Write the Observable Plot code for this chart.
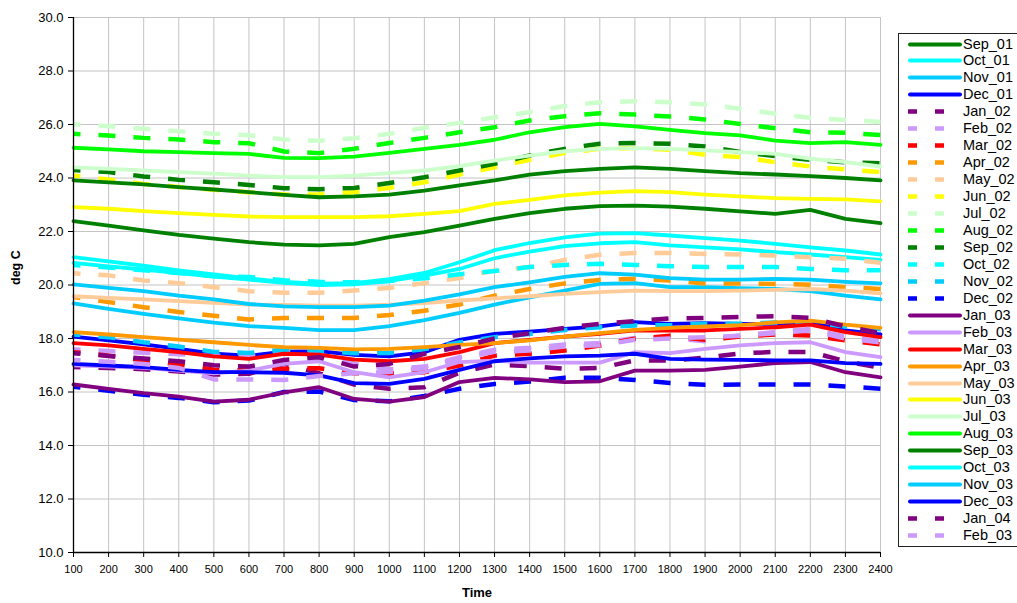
<!DOCTYPE html>
<html><head><meta charset="utf-8">
<script src="https://cdn.jsdelivr.net/npm/d3@7"></script>
<script src="https://cdn.jsdelivr.net/npm/@observablehq/plot@0.6"></script>
<style>
body{margin:0;background:#fff;font-family:"Liberation Sans",Arial,sans-serif}
#wrap{position:relative;width:1017px;height:603px;overflow:hidden}
#legend{position:absolute;left:898px;top:33px;width:140px;height:514px;border:1px solid #222;box-sizing:border-box;background:#fff}
.item{position:absolute;left:0;height:17px;display:flex;align-items:center;white-space:nowrap}
.item span{font-size:14.5px;color:#000;line-height:17px}
</style></head>
<body><div id="wrap"><div id="chart"></div><div id="legend"></div></div>
<script>
const times = [100,200,300,400,500,600,700,800,900,1000,1100,1200,1300,1400,1500,1600,1700,1800,1900,2000,2100,2200,2300,2400];
const yTicks = [10,12,14,16,18,20,22,24,26,28,30];

const seriesNames = ["Sep_01","Oct_01","Nov_01","Dec_01","Jan_02","Feb_02","Mar_02","Apr_02","May_02","Jun_02","Jul_02","Aug_02","Sep_02","Oct_02","Nov_02","Dec_02","Jan_03","Feb_03","Mar_03","Apr_03","May_03","Jun_03","Jul_03","Aug_03","Sep_03","Oct_03","Nov_03","Dec_03","Jan_04","Feb_03"];

const sep01 = [22.39,22.22,22.04,21.87,21.73,21.6,21.51,21.48,21.54,21.79,21.98,22.22,22.47,22.69,22.85,22.95,22.97,22.93,22.85,22.75,22.66,22.81,22.47,22.31];
const oct01 = [20.83,20.7,20.58,20.44,20.31,20.2,20.08,20.0,20.02,20.15,20.35,20.6,21.0,21.25,21.45,21.56,21.6,21.48,21.41,21.33,21.23,21.14,21.04,20.94];
const nov01 = [19.31,19.11,18.92,18.75,18.59,18.46,18.4,18.31,18.31,18.46,18.69,18.96,19.27,19.54,19.79,20.04,20.07,19.92,19.92,19.88,19.85,19.77,19.6,19.46];
const dec01 = [18.07,17.93,17.78,17.61,17.43,17.36,17.51,17.53,17.39,17.33,17.49,17.95,18.17,18.26,18.36,18.45,18.61,18.55,18.57,18.55,18.55,18.61,18.3,18.15];
const jan02 = [16.93,16.9,16.85,16.77,16.65,16.68,17.05,16.7,16.28,16.12,16.18,16.72,17.03,16.97,16.87,16.9,17.18,17.18,17.28,17.44,17.5,17.5,17.15,16.9];
const feb02 = [17.59,17.53,17.47,17.41,17.35,17.37,17.5,17.4,17.05,16.85,16.95,17.3,17.58,17.65,17.78,17.83,18.02,18.02,17.9,18.11,18.24,18.36,18.07,17.9];
const mar02 = [17.49,17.36,17.18,17.03,16.83,16.8,16.87,16.89,16.7,16.68,16.74,16.99,17.36,17.43,17.55,17.74,17.99,18.1,17.95,18.07,18.15,18.11,17.93,17.78];
const apr02 = [19.55,19.36,19.17,18.99,18.85,18.71,18.77,18.77,18.77,18.88,19.04,19.27,19.6,19.85,20.06,20.19,20.23,20.17,20.06,20.06,20.04,20.01,19.92,19.85];
const may02 = [20.44,20.36,20.17,20.07,19.92,19.77,19.71,19.71,19.79,19.89,20.07,20.26,20.54,20.67,20.94,21.13,21.2,21.2,21.16,21.14,21.1,21.04,20.98,20.83];
const jun02 = [24.09,23.94,23.78,23.66,23.56,23.47,23.38,23.38,23.47,23.63,23.84,24.13,24.4,24.68,24.94,25.09,25.12,25.06,24.87,24.78,24.59,24.43,24.32,24.22];
const jul02 = [26.0,25.94,25.84,25.75,25.65,25.6,25.44,25.39,25.49,25.65,25.88,26.06,26.27,26.46,26.69,26.83,26.87,26.83,26.75,26.59,26.4,26.25,26.17,26.09];
const aug02 = [25.65,25.59,25.5,25.44,25.34,25.3,24.99,24.93,25.09,25.31,25.5,25.71,25.9,26.15,26.31,26.42,26.37,26.3,26.19,26.02,25.86,25.71,25.69,25.61];
const sep02 = [24.3,24.22,24.06,23.93,23.84,23.74,23.62,23.58,23.63,23.81,24.03,24.28,24.53,24.84,25.09,25.28,25.31,25.28,25.18,24.97,24.82,24.68,24.59,24.55];
const oct02 = [20.75,20.65,20.55,20.45,20.33,20.3,20.18,20.12,20.1,20.15,20.25,20.4,20.52,20.67,20.75,20.79,20.75,20.7,20.67,20.67,20.67,20.6,20.55,20.55];
const nov02 = [18.15,18.05,17.86,17.7,17.5,17.46,17.58,17.55,17.45,17.46,17.6,17.85,18.05,18.17,18.32,18.42,18.49,18.5,18.55,18.55,18.6,18.6,18.45,18.35];
const dec02 = [16.2,16.05,15.9,15.78,15.62,15.68,16.0,16.02,15.7,15.65,15.85,16.12,16.3,16.39,16.53,16.53,16.45,16.34,16.27,16.28,16.28,16.28,16.21,16.12];
const jan03 = [16.28,16.12,15.96,15.83,15.64,15.71,15.99,16.18,15.74,15.64,15.81,16.37,16.53,16.47,16.37,16.4,16.8,16.8,16.83,16.95,17.08,17.12,16.74,16.55];
const feb03 = [17.0,16.95,16.9,16.8,16.7,16.8,17.05,17.15,16.74,16.55,16.74,17.12,17.17,17.1,17.1,17.1,17.49,17.45,17.61,17.74,17.83,17.86,17.49,17.3];
const mar03 = [17.83,17.74,17.61,17.49,17.33,17.24,17.43,17.4,17.21,17.15,17.24,17.49,17.83,17.95,18.07,18.17,18.3,18.3,18.3,18.36,18.42,18.52,18.24,18.05];
const apr03 = [18.24,18.15,18.05,17.96,17.86,17.76,17.68,17.65,17.59,17.61,17.68,17.76,17.83,17.93,18.07,18.2,18.32,18.4,18.45,18.5,18.6,18.67,18.52,18.4];
const may03 = [19.58,19.52,19.46,19.4,19.33,19.27,19.26,19.23,19.23,19.27,19.32,19.42,19.5,19.58,19.67,19.73,19.79,19.77,19.77,19.79,19.82,19.85,19.79,19.69];
const jun03 = [22.91,22.85,22.76,22.69,22.62,22.56,22.54,22.54,22.54,22.57,22.66,22.76,23.03,23.18,23.35,23.45,23.51,23.47,23.38,23.31,23.25,23.22,23.2,23.13];
const jul03 = [24.4,24.34,24.28,24.22,24.16,24.09,24.03,24.03,24.09,24.18,24.28,24.44,24.65,24.84,25.0,25.09,25.12,25.09,25.03,24.97,24.9,24.72,24.59,24.43];
const aug03 = [25.13,25.07,25.0,24.97,24.93,24.9,24.75,24.74,24.8,24.94,25.09,25.24,25.43,25.71,25.9,26.02,25.93,25.8,25.68,25.59,25.4,25.3,25.34,25.24];
const sep03 = [23.91,23.84,23.76,23.66,23.57,23.47,23.37,23.28,23.31,23.38,23.53,23.72,23.91,24.13,24.26,24.34,24.4,24.34,24.26,24.18,24.13,24.07,24.0,23.91];
const oct03 = [21.04,20.88,20.72,20.55,20.4,20.25,20.12,20.05,20.07,20.22,20.45,20.85,21.3,21.57,21.78,21.92,21.94,21.85,21.75,21.66,21.54,21.41,21.29,21.14];
const nov03 = [20.02,19.89,19.77,19.6,19.46,19.29,19.2,19.17,19.17,19.23,19.42,19.65,19.92,20.1,20.3,20.44,20.39,20.26,20.2,20.2,20.23,20.2,20.12,20.06];
const dec03 = [17.05,16.99,16.93,16.83,16.74,16.74,16.72,16.62,16.33,16.3,16.49,16.83,17.15,17.26,17.33,17.36,17.43,17.24,17.21,17.2,17.18,17.18,17.08,17.05];
const jan04 = [17.45,17.35,17.25,17.15,17.0,16.95,17.2,17.3,16.95,17.05,17.43,17.68,18.0,18.2,18.4,18.55,18.65,18.75,18.77,18.81,18.83,18.77,18.45,18.2];
const feb03b = [17.2,17.13,17.05,16.9,16.47,16.47,16.45,16.6,16.7,16.75,16.9,17.25,17.5,17.55,17.7,17.75,17.95,18.0,18.05,18.1,18.2,18.3,18.0,17.85];

const seriesValues = [sep01,oct01,nov01,dec01,jan02,feb02,mar02,apr02,may02,jun02,jul02,aug02,sep02,oct02,nov02,dec02,jan03,feb03,mar03,apr03,may03,jun03,jul03,aug03,sep03,oct03,nov03,dec03,jan04,feb03b];

// styles (kept apart from the data)
const monthColor = {Jan:"#800080",Feb:"#cc99ff",Mar:"#ff0000",Apr:"#ff9900",May:"#ffcc99",Jun:"#ffff00",Jul:"#ccffcc",Aug:"#00ff00",Sep:"#008000",Oct:"#00ffff",Nov:"#00ccff",Dec:"#0000ff"};
const isDashed = i => (i >= 4 && i <= 15) || i >= 28;

const series = seriesNames.map((name, i) => ({
  name, dashed: isDashed(i), color: monthColor[name.slice(0,3)],
  data: times.map((t, j) => ({time: t, value: seriesValues[i][j]}))
}));

const FONT = '"Liberation Sans", Arial, sans-serif';
const lineMarks = series.map(s => Plot.line(s.data, {
  x: "time", y: "value", stroke: s.color, strokeWidth: s.dashed ? 4.5 : 3.8,
  strokeLinejoin: "round", strokeLinecap: s.dashed ? "butt" : "round",
  strokeDasharray: s.dashed ? "17,18" : null, strokeDashoffset: s.dashed ? 10 : null,
  curve: "linear"
}));

const chart = Plot.plot({
  width: 1017, height: 603,
  marginLeft: 73, marginRight: 137, marginTop: 17, marginBottom: 51,
  style: {fontFamily: FONT, background: "#fff", color: "#000"},
  x: {domain: [100, 2400]},
  y: {domain: [10, 30]},
  marks: [
    Plot.gridX(times, {stroke: "#c4c4c4", strokeOpacity: 1, strokeWidth: 1}),
    Plot.gridY(yTicks, {stroke: "#c4c4c4", strokeOpacity: 1, strokeWidth: 1}),
    ...lineMarks,
    Plot.ruleX([100], {stroke: "#000", strokeWidth: 1.3}),
    Plot.ruleY([10], {stroke: "#000", strokeWidth: 1.3}),
    Plot.axisX(times, {tickSize: 5, tickPadding: 8, fontSize: 11, label: null, tickFormat: d => String(d)}),
    Plot.axisY(yTicks, {tickSize: 5, tickPadding: 5, fontSize: 13, label: null, tickFormat: d => d.toFixed(1)}),
    Plot.text(["deg C"], {frameAnchor: "left", dx: -58, rotate: -90, fontWeight: "bold", fontSize: 12.5}),
    Plot.text(["Time"], {frameAnchor: "bottom", dy: 44, fontWeight: "bold", fontSize: 13})
  ]
});
document.getElementById("chart").appendChild(chart);

// legend
const legend = document.getElementById("legend");
series.forEach((s, i) => {
  const row = document.createElement("div");
  row.className = "item";
  row.style.top = (10 + i * 16.95 - 8.5) + "px";
  const ns = "http://www.w3.org/2000/svg";
  const svg = document.createElementNS(ns, "svg");
  svg.setAttribute("width", 64); svg.setAttribute("height", 17);
  const ln = document.createElementNS(ns, "line");
  ln.setAttribute("y1", 8.5); ln.setAttribute("y2", 8.5);
  ln.setAttribute("stroke", s.color);
  if (s.dashed) {
    ln.setAttribute("x1", 9); ln.setAttribute("x2", 48);
    ln.setAttribute("stroke-width", 4.5);
    ln.setAttribute("stroke-dasharray", "9,18");
  } else {
    ln.setAttribute("x1", 11); ln.setAttribute("x2", 61);
    ln.setAttribute("stroke-width", 4);
    ln.setAttribute("stroke-linecap", "round");
  }
  svg.appendChild(ln);
  const label = document.createElement("span");
  label.textContent = s.name;
  row.appendChild(svg); row.appendChild(label);
  legend.appendChild(row);
});
</script></body></html>
